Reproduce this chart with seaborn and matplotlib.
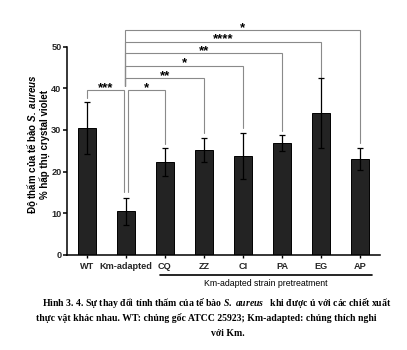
import matplotlib
matplotlib.use("Agg")
import matplotlib.pyplot as plt
import matplotlib.transforms as mtransforms
import seaborn as sns
import pandas as pd
import numpy as np

categories = ["WT", "Km-adapted", "CQ", "ZZ", "CI", "PA", "EG", "AP"]
means = [30.4, 10.5, 22.3, 25.2, 23.8, 26.8, 34.1, 23.1]
errors = [6.2, 3.2, 3.3, 2.9, 5.5, 1.9, 8.3, 2.6]

# significance brackets: (left category, right category, level, label)
bracket_pairs = [("WT", "Km-adapted"), ("Km-adapted", "CQ"), ("Km-adapted", "ZZ"),
                 ("Km-adapted", "CI"), ("Km-adapted", "PA"), ("Km-adapted", "EG"),
                 ("Km-adapted", "AP")]
bracket_levels = [39.6, 39.6, 42.5, 45.4, 48.4, 51.2, 54.0]
bracket_labels = ["***", "*", "**", "*", "**", "****", "*"]

sns.set_theme(style="ticks")
plt.rcParams["font.family"] = ["Liberation Sans", "DejaVu Sans"]
plt.rcParams["mathtext.fontset"] = "custom"
plt.rcParams["mathtext.sf"] = "Liberation Sans:italic:bold"
plt.rcParams["mathtext.it"] = "Liberation Serif:italic:bold"
plt.rcParams["mathtext.rm"] = "Liberation Serif:bold"

df = pd.DataFrame({"cat": categories, "val": means, "err": errors})

fig = plt.figure(figsize=(4.07, 3.5), dpi=100)
ax = fig.add_axes([67 / 407, 1 - 255 / 350, 313 / 407, 250 / 350])

sns.barplot(data=df, x="cat", y="val", order=categories, errorbar=None,
            color="#232323", edgecolor="black", linewidth=0.7, width=0.47,
            saturation=1, ax=ax)
pos = {c: i for i, c in enumerate(categories)}
ax.errorbar([pos[c] for c in categories], means, yerr=errors, fmt="none",
            ecolor="black", elinewidth=0.9, capsize=2.5, capthick=0.9, zorder=3)

ax.set_xlim(-0.51, 7.51)
ax.set_ylim(0, 60)
ax.set_yticks([0, 10, 20, 30, 40, 50])
ax.spines["left"].set_bounds(0, 50)
ax.spines["top"].set_visible(False)
ax.spines["right"].set_visible(False)
for s in ["left", "bottom"]:
    ax.spines[s].set_linewidth(1.1)
    ax.spines[s].set_color("black")
ax.tick_params(axis="y", length=3, width=1.1, pad=1, labelsize=6.6, color="black")
ax.tick_params(axis="x", length=2.5, width=1.0, pad=2.5, labelsize=6.6, color="black")
for lab in ax.get_xticklabels() + ax.get_yticklabels():
    lab.set_fontweight("bold")
ax.set_xlabel("")
ax.set_ylabel("")

# brackets
gap = 1.1
grey = "#8a8a8a"
for (a, b), lev, lab in zip(bracket_pairs, bracket_levels, bracket_labels):
    xa, xb = pos[a], pos[b]
    if a == "WT":
        xl, xr = xa, xb - 0.05
        yl = means[pos[a]] + errors[pos[a]] + gap
        yr = means[pos[b]] + errors[pos[b]] + 1.5
    elif b == "CQ":
        xl, xr = xa + 0.05, xb
        yl = means[pos[a]] + errors[pos[a]] + 1.5
        yr = means[pos[b]] + errors[pos[b]] + gap
    else:
        xl, xr = xa - 0.02, xb
        yl = 40.5
        yr = means[pos[b]] + errors[pos[b]] + (0 if b == "EG" else gap)
    ax.plot([xl, xl, xr, xr], [yl, lev, lev, yr], color=grey, lw=0.8,
            clip_on=False, zorder=2, solid_joinstyle="miter")
    ax.annotate(lab, xy=((xl + xr) / 2, lev), xytext=(0, -0.6),
                textcoords="offset points", ha="center", va="baseline",
                fontsize=9.5, fontweight="bold", color="black", annotation_clip=False)

# group line
trans = mtransforms.blended_transform_factory(ax.transData, ax.transAxes)
ax.plot([1.87, 7.30], [-0.08, -0.08], color="black", lw=1.2, transform=trans,
        clip_on=False)
ax.text((1.87 + 7.30) / 2, -0.116, "Km-adapted strain pretreatment", transform=trans,
        ha="center", va="center", fontsize=6.3, color="black")

# y label
fig.text(38.5 / 407, 1 - 144 / 350,
         "Độ thấm của tế bào $\\mathsf{S.\\ aureus}$\n% hấp thụ crystal violet",
         rotation=90, ha="center", va="center", multialignment="center",
         fontsize=7.0, fontweight="bold", linespacing=1.0, color="black")

# caption
cap_kw = dict(ha="center", va="center", fontsize=7.0, fontweight="bold",
              family=["Liberation Serif", "DejaVu Serif"], color="black")
fig.text(217 / 407, 1 - 303 / 350,
         "Hình 3. 4. Sự thay đổi tính thấm của tế bào $\\mathit{S.\\ aureus}$   khi được ủ với các chiết xuất",
         **cap_kw)
fig.text(206 / 407, 1 - 318 / 350,
         "thực vật khác nhau. WT: chủng gốc ATCC 25923; Km-adapted: chủng thích nghi",
         **cap_kw)
fig.text(228 / 407, 1 - 333 / 350, "với Km.", **cap_kw)

fig.savefig("out.png", dpi=100, facecolor="white")
